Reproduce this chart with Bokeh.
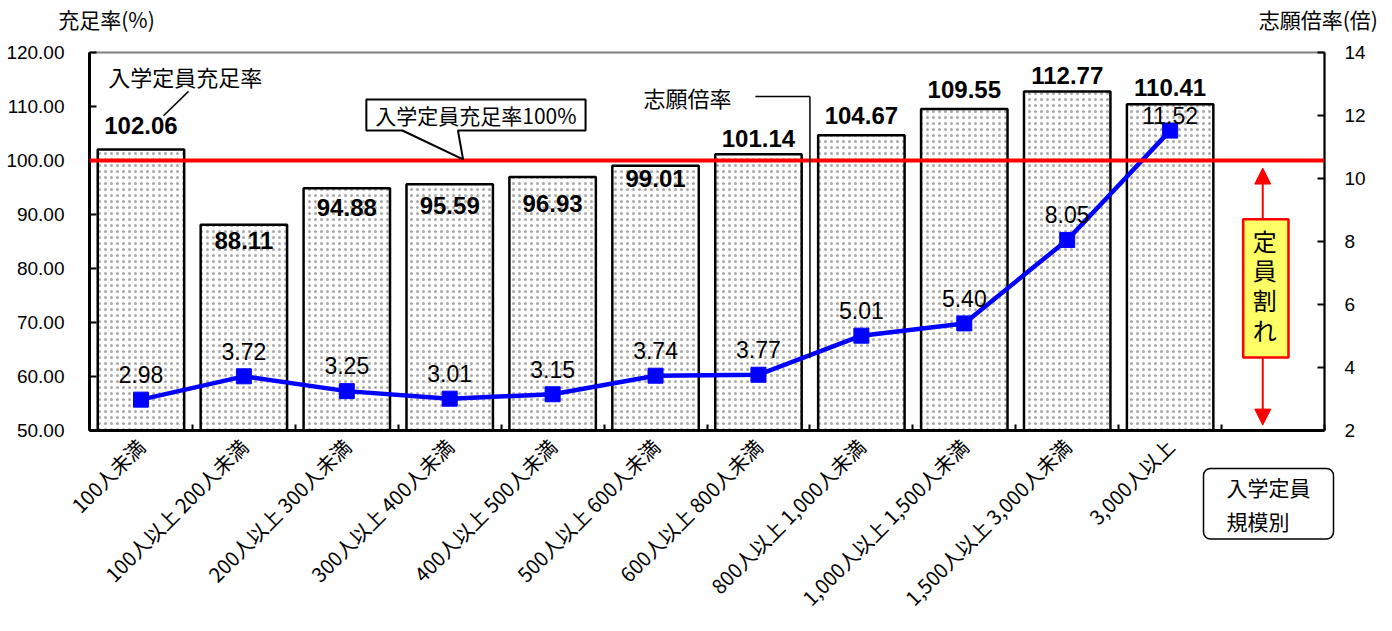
import math
from bokeh.plotting import figure
from bokeh.models import (Range1d, LinearAxis, FixedTicker, Title,
                          PrintfTickFormatter, Label, BoxAnnotation, PolyAnnotation,
                          Arrow, NormalHead)
from bokeh.core.properties import value
from bokeh.embed import file_html
from bokeh.resources import INLINE

# ---- data ----
categories = ["100人未満", "100人以上 200人未満", "200人以上 300人未満", "300人以上 400人未満",
              "400人以上 500人未満", "500人以上 600人未満", "600人以上 800人未満",
              "800人以上 1,000人未満", "1,000人以上 1,500人未満", "1,500人以上 3,000人未満",
              "3,000人以上"]
fill_rate = [102.06, 88.11, 94.88, 95.59, 96.93, 99.01, 101.14, 104.67, 109.55, 112.77, 110.41]
app_ratio = [2.98, 3.72, 3.25, 3.01, 3.15, 3.74, 3.77, 5.01, 5.40, 8.05, 11.52]
left_ticks = [50, 60, 70, 80, 90, 100, 110, 120]
right_ticks = [2, 4, 6, 8, 10, 12, 14]
left_title = "充足率(%)"
right_title = "志願倍率(倍)"
size_label = "入学定員\n規模別"

JP = "Noto Sans CJK JP"
NUM = "Liberation Sans"

# ---- layout-only helpers ----
xs = list(range(1, len(categories) + 1))
bar_label_off = [4.4, -2.9, -3.6, -3.9, -4.9, -2.4, 3.0, 3.7, 3.6, 3.0, 3.1]
line_label_off = [0.8] * 10 + [0.48]

p = figure(width=1392, height=631, output_backend="svg", toolbar_location=None,
           x_range=Range1d(0.5, 12.5), y_range=Range1d(50, 120),
           min_border_left=89, min_border_right=68, min_border_top=52, min_border_bottom=201,
           background_fill_color="white", border_fill_color="white")
p.extra_y_ranges = {"r": Range1d(2, 14)}
p.grid.visible = False
p.outline_line_color = "#808080"
p.outline_line_width = 2

# x axis
xa = p.xaxis[0]
xa.ticker = FixedTicker(ticks=xs + [12], minor_ticks=[i + 0.5 for i in range(0, 13)])
xa.major_label_overrides = {i: c for i, c in zip(xs, categories)}
xa.major_label_overrides[12] = ""
xa.major_label_orientation = math.pi / 4
xa.major_tick_line_color = None
xa.minor_tick_in = 6
xa.minor_tick_out = 0
xa.minor_tick_line_width = 2
xa.minor_tick_line_color = "black"
xa.axis_line_width = 3
xa.axis_line_color = "black"
xa.major_label_text_font = JP
xa.major_label_text_font_size = "20px"
xa.major_label_text_color = "black"
xa.major_label_standoff = 6

# axis titles: a tick-less axis above the frame
ta = LinearAxis(ticker=FixedTicker(ticks=[0.665, 12.44]),
                major_label_overrides={0.665: left_title, 12.44: right_title})
ta.axis_line_color = None
ta.major_tick_line_color = None
ta.minor_tick_line_color = None
ta.major_tick_in = 0
ta.major_tick_out = 0
ta.minor_tick_in = 0
ta.minor_tick_out = 0
ta.major_label_text_font = JP
ta.major_label_text_font_size = "21px"
ta.major_label_text_color = "black"
ta.major_label_standoff = 19
p.add_layout(ta, "above")

# left axis
ya = p.yaxis[0]
ya.ticker = FixedTicker(ticks=left_ticks)
ya.formatter = PrintfTickFormatter(format="%.2f")
ya.major_tick_in = 7
ya.major_tick_out = 0
ya.major_tick_line_width = 2
ya.minor_tick_line_color = None
ya.axis_line_width = 3
ya.major_label_text_font = NUM
ya.major_label_text_font_size = "19px"
ya.major_label_text_color = "black"
ya.major_label_standoff = 25

# right axis
ra = LinearAxis(y_range_name="r", ticker=FixedTicker(ticks=right_ticks))
ra.major_tick_in = 7
ra.major_tick_out = 0
ra.major_tick_line_width = 2
ra.minor_tick_line_color = None
ra.axis_line_width = 2
ra.major_label_text_font = NUM
ra.major_label_text_font_size = "19px"
ra.major_label_text_color = "black"
ra.major_label_standoff = 20
p.add_layout(ra, "right")

# bars
p.vbar(x=xs, top=fill_rate, bottom=50, width=0.84, fill_color="white",
       line_color="black", line_width=2.5,
       hatch_pattern="dot", hatch_color="#a8a8a8", hatch_scale=6, hatch_weight=1)

# bar labels
p.text(x=xs, y=[v + o for v, o in zip(fill_rate, bar_label_off)],
       text=[f"{v:.2f}" for v in fill_rate], text_font=value(NUM),
       text_font_style="bold", text_font_size="24px", text_align="center",
       text_baseline="middle", text_color="black")

# 100% red line
p.add_layout(Arrow(x_start=0.5, y_start=100, x_end=12.5, y_end=100, end=None,
                   line_color="#FF0000", line_width=4))

# application ratio line
p.line(xs, app_ratio, y_range_name="r", line_color="#0000FF", line_width=4.5)
p.scatter(xs, app_ratio, y_range_name="r", marker="square", size=15,
          fill_color="#0000FF", line_color="#0000FF")
p.text(x=xs, y=[v + o for v, o in zip(app_ratio, line_label_off)], y_range_name="r",
       text=[f"{v:.2f}" for v in app_ratio], text_font=value(NUM),
       text_font_size="23px", text_align="center", text_baseline="middle",
       text_color="black")

# "入学定員充足率" annotation with leader
p.add_layout(Label(x=1.43, y=115.7, text="入学定員充足率", text_font=JP, text_font_size="22px",
                   text_align="center", text_baseline="middle", text_color="black"))
p.add_layout(Arrow(x_start=1.462, y_start=112.8, x_end=1.219, y_end=108.3, end=None,
                   line_color="black", line_width=1.5))

# callout box 入学定員充足率100%
p.add_layout(PolyAnnotation(xs=[3.19, 5.32, 5.32, 4.08, 4.13, 3.54, 3.19],
                            ys=[111.3, 111.3, 105.56, 105.56, 100.2, 105.56, 105.56],
                            fill_color="white", fill_alpha=1, line_color="black",
                            line_alpha=1, line_width=2))
p.add_layout(Label(x=4.255, y=108.45, text="入学定員充足率100%", text_font=JP,
                   text_font_size="21px", text_align="center", text_baseline="middle",
                   text_color="black"))

# 志願倍率 annotation with leader
p.add_layout(Label(x=6.31, y=111.7, text="志願倍率", text_font=JP, text_font_size="22px",
                   text_align="center", text_baseline="middle", text_color="black"))
p.add_layout(Arrow(x_start=6.97, y_start=111.85, x_end=7.50, y_end=111.85, end=None,
                   line_color="black", line_width=1.5))
p.add_layout(Arrow(x_start=7.50, y_start=111.85, x_end=7.50, y_end=63.4, end=None,
                   line_color="black", line_width=1.5))

# 定員割れ double arrow
ax = 11.9
p.add_layout(Arrow(x_start=ax, y_start=75, x_end=ax, y_end=98.6,
                   end=NormalHead(size=16, fill_color="#FF0000", line_color="#FF0000"),
                   line_color="#FF0000", line_width=2))
p.add_layout(Arrow(x_start=ax, y_start=75, x_end=ax, y_end=51.0,
                   end=NormalHead(size=16, fill_color="#FF0000", line_color="#FF0000"),
                   line_color="#FF0000", line_width=2))
p.add_layout(BoxAnnotation(left=11.71, right=12.15, top=89.1, bottom=63.5,
                           fill_color="#FFFF66", fill_alpha=1, line_color="#FF0000",
                           line_width=2.5, line_alpha=1))
for ch, cy in zip("定員割れ", [85.2, 79.8, 74.3, 68.7]):
    p.add_layout(Label(x=11.92, y=cy, text=ch, text_font=JP, text_font_size="24px",
                       text_align="center", text_baseline="middle", text_color="black"))

# boxed "入学定員 規模別" below the axis (a title pulled up with a negative standoff)
st = Title(text=size_label, align="right", offset=16, vertical_align="top", standoff=-312,
           text_font=JP, text_font_size="21px", text_font_style="normal",
           text_color="black", border_line_color="black", border_line_width=1.5)
try:
    st.padding = dict(left=23, right=23, top=3, bottom=3)
    st.border_radius = 7
except Exception:
    pass
try:
    st.offset = -9
except Exception:
    pass
try:
    st.text_line_height = 1.15
except Exception:
    pass
p.add_layout(st, "below")

open("out.html", "w").write(file_html(p, INLINE))
